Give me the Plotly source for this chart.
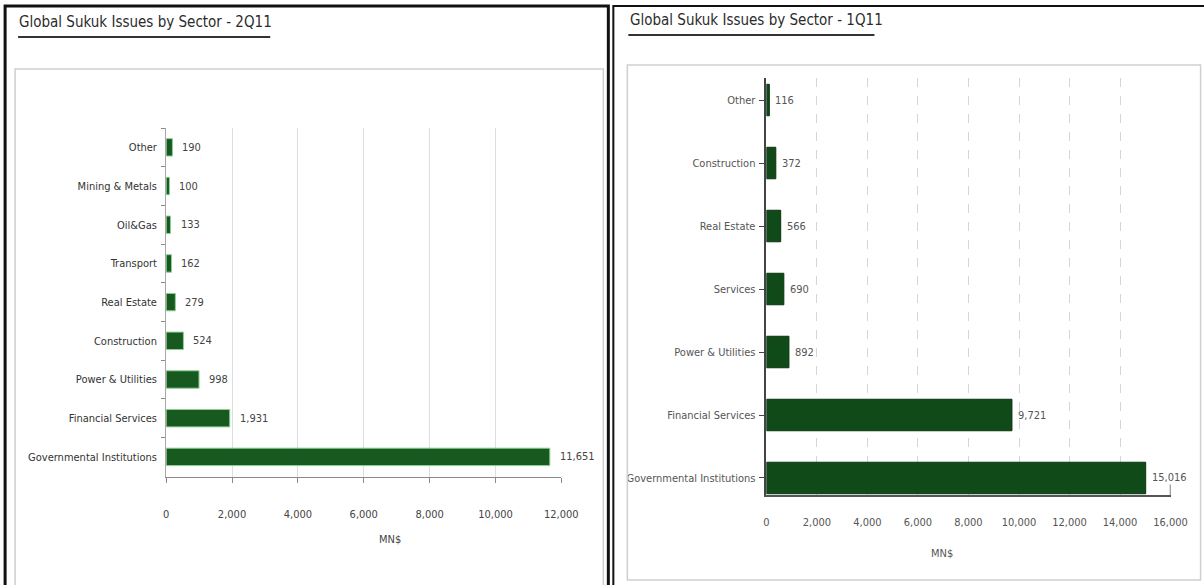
import plotly.graph_objects as go

# ---- data -------------------------------------------------------------
# Q2 2011 sukuk issues by sector (top-to-bottom order), MN$
sectors_2q11 = ["Other", "Mining & Metals", "Oil&Gas", "Transport", "Real Estate",
                "Construction", "Power & Utilities", "Financial Services",
                "Governmental Institutions"]
values_2q11 = [190, 100, 133, 162, 279, 524, 998, 1931, 11651]

# Q1 2011 sukuk issues by sector (top-to-bottom order), MN$
sectors_1q11 = ["Other", "Construction", "Real Estate", "Services",
                "Power & Utilities", "Financial Services", "Governmental Institutions"]
values_1q11 = [116, 372, 566, 690, 892, 9721, 15016]

ticks_2q11 = [0, 2000, 4000, 6000, 8000, 10000, 12000]
ticks_1q11 = [0, 2000, 4000, 6000, 8000, 10000, 12000, 14000, 16000]

titles = ["Global Sukuk Issues by Sector - 2Q11", "Global Sukuk Issues by Sector - 1Q11"]
axis_title = "MN$"

# ---- page geometry ------------------------------------------------------
W, H = 1204, 585
FONT = "DejaVu Sans Condensed, Liberation Sans Narrow, Arial Narrow, sans-serif"
LABEL_SIZE = 11
TITLE_SIZE = 15

# horizontal placement correction for the page viewport
X_OFF, X_SCALE = 2.9, 0.983


def px_x(x):
    return ((x - X_OFF) / X_SCALE) / W


def px_y(y):
    return 1 - y / H


fig = go.Figure()

# left panel bars (2Q11)
fig.add_trace(go.Bar(
    x=values_2q11, y=sectors_2q11, orientation="h",
    marker=dict(color="#17591f", line=dict(color="#8fcf95", width=1)),
    width=0.45, xaxis="x", yaxis="y", hoverinfo="x+y", showlegend=False,
))

# right panel bars (1Q11)
fig.add_trace(go.Bar(
    x=values_1q11, y=sectors_1q11, orientation="h",
    marker=dict(color="#0f4a18", line=dict(color="#0a3511", width=1)),
    width=0.5, xaxis="x2", yaxis="y2", hoverinfo="x+y", showlegend=False,
))

annotations = []
# value labels beside each bar
for s, v in zip(sectors_2q11, values_2q11):
    annotations.append(dict(x=v, y=s, xref="x", yref="y", text=f"{v:,}",
                            showarrow=False, xanchor="left", xshift=8,
                            font=dict(family=FONT, size=LABEL_SIZE, color="#444")))
for s, v in zip(sectors_1q11, values_1q11):
    annotations.append(dict(x=v, y=s, xref="x2", yref="y2", text=f"{v:,}",
                            showarrow=False, xanchor="left", xshift=4,
                            font=dict(family=FONT, size=LABEL_SIZE, color="#555")))

# panel titles
annotations.append(dict(x=px_x(17), y=px_y(22), xref="paper", yref="paper",
                        text=titles[0], showarrow=False, xanchor="left", yanchor="middle",
                        font=dict(family=FONT, size=TITLE_SIZE, color="#2b2b2b")))
annotations.append(dict(x=px_x(628), y=px_y(20), xref="paper", yref="paper",
                        text=titles[1], showarrow=False, xanchor="left", yanchor="middle",
                        font=dict(family=FONT, size=TITLE_SIZE, color="#2b2b2b")))

# axis titles
annotations.append(dict(x=px_x(377), y=px_y(548), xref="paper", yref="paper",
                        text=axis_title, showarrow=False,
                        font=dict(family=FONT, size=LABEL_SIZE, color="#444")))
annotations.append(dict(x=px_x(955), y=px_y(562), xref="paper", yref="paper",
                        text=axis_title, showarrow=False,
                        font=dict(family=FONT, size=LABEL_SIZE, color="#555")))

shapes = [
    # outer black frames
    dict(type="rect", xref="paper", yref="paper", x0=px_x(5), x1=px_x(608),
         y0=px_y(600), y1=px_y(6), line=dict(color="#111", width=3)),
    dict(type="rect", xref="paper", yref="paper", x0=px_x(613), x1=px_x(1230),
         y0=px_y(600), y1=px_y(6), line=dict(color="#111", width=2)),
    # inner light chart boxes
    dict(type="rect", xref="paper", yref="paper", x0=px_x(15), x1=px_x(603),
         y0=px_y(600), y1=px_y(69), line=dict(color="#cfcfcf", width=1.5)),
    dict(type="rect", xref="paper", yref="paper", x0=px_x(627), x1=px_x(1200),
         y0=px_y(580), y1=px_y(65), line=dict(color="#cfcfcf", width=1.5)),
    # title underlines
    dict(type="line", xref="paper", yref="paper", x0=px_x(18), x1=px_x(270),
         y0=px_y(37), y1=px_y(37), line=dict(color="#333", width=2)),
    dict(type="line", xref="paper", yref="paper", x0=px_x(628), x1=px_x(874),
         y0=px_y(35), y1=px_y(35), line=dict(color="#333", width=2)),
    # end tick of the right value axis
    dict(type="line", xref="x2", yref="y2 domain", x0=ticks_1q11[-1], x1=ticks_1q11[-1],
         y0=0, y1=0.025, line=dict(color="#555", width=1.5)),
]

fig.update_layout(
    width=W, height=H, autosize=False,
    margin=dict(l=0, r=0, t=0, b=0),
    paper_bgcolor="white", plot_bgcolor="white",
    font=dict(family=FONT, size=LABEL_SIZE, color="#444"),
    bargap=0.5,
    annotations=annotations, shapes=shapes,
    xaxis=dict(
        domain=[px_x(166), px_x(561)], range=[0, 12000],
        tickvals=ticks_2q11, ticktext=[f"{t:,}" for t in ticks_2q11],
        showgrid=True, gridcolor="#dedede", gridwidth=1, zeroline=False,
        showline=True, linecolor="#8a8a8a", linewidth=1,
        ticks="outside", ticklen=5, tickcolor="#8a8a8a",
        ticklabelstandoff=22, tickfont=dict(family=FONT, size=LABEL_SIZE, color="#444"),
        anchor="y", fixedrange=True,
    ),
    yaxis=dict(
        domain=[px_y(477), px_y(128)], type="category",
        categoryorder="array", categoryarray=sectors_2q11,
        range=[8.52, -0.5],
        showgrid=False, zeroline=False,
        showline=True, linecolor="#a8a8a8", linewidth=1,
        ticks="outside", tickson="boundaries", ticklen=4, tickcolor="#8a8a8a",
        ticklabelstandoff=6, tickfont=dict(family=FONT, size=LABEL_SIZE, color="#333"),
        anchor="x", fixedrange=True,
    ),
    xaxis2=dict(
        domain=[px_x(766), px_x(1170)], range=[0, 16000],
        tickvals=ticks_1q11, ticktext=[f"{t:,}" for t in ticks_1q11],
        showgrid=True, gridcolor="#d6d6d6", gridwidth=1, griddash="dash",
        zeroline=False,
        showline=True, linecolor="#555", linewidth=1.5,
        ticks="", ticklabelstandoff=16,
        tickfont=dict(family=FONT, size=LABEL_SIZE, color="#555"),
        anchor="y2", fixedrange=True,
    ),
    yaxis2=dict(
        domain=[px_y(495), px_y(78)], type="category",
        categoryorder="array", categoryarray=sectors_1q11,
        range=[6.27, -0.35],
        showgrid=False, zeroline=False,
        showline=True, linecolor="#444", linewidth=1.5,
        ticks="outside", ticklen=6, tickcolor="#444",
        ticklabelstandoff=1, tickfont=dict(family=FONT, size=LABEL_SIZE, color="#555"),
        anchor="x2", fixedrange=True,
    ),
)

fig.write_html("out.html", config={"responsive": False})
